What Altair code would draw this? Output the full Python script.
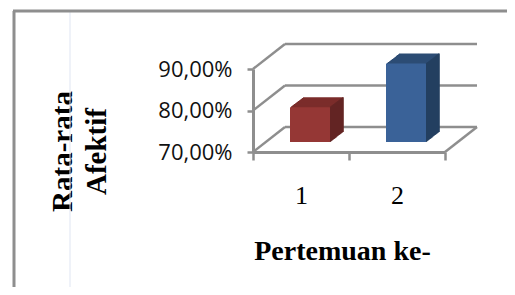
import altair as alt
import pandas as pd

# ---- data ----
pertemuan = ["1", "2"]
nilai = [78.4, 88.9]          # Rata-rata Afektif (%)
grid_values = [70, 80, 90]    # y-axis ticks (%)

bars = pd.DataFrame({"pertemuan": pertemuan, "nilai": nilai})
grid = pd.DataFrame({"nilai": grid_values})

RED_FRONT, RED_TOP, RED_SIDE = "#953735", "#7b2d2b", "#632523"
BLUE_FRONT, BLUE_TOP, BLUE_SIDE = "#3a6298", "#2c4c75", "#243f60"
GRAY = "#8e8e8e"

W, H = 192, 83
DX, DY = 32, -25          # depth of the 3-D walls (px)
BX, BY = 9, -10           # bar front-face offset (px)
EX, EY = 13, -10          # bar extrusion (px)
BW = 40                   # bar width (px)

yscale = alt.Scale(domain=[70, 90], nice=False, zero=False)
yaxis = alt.Axis(
    values=grid_values,
    labelExpr="replace(format(datum.value, '.2f'), '.', ',') + '%'",
    labelFont="Open Sans", labelFontSize=22, labelColor="#111111",
    labelPadding=15, tickSize=6, tickWidth=2.5, tickColor=GRAY,
    domainColor=GRAY, domainWidth=3, grid=False,
    title=["Rata-rata", "Afektif"], titleFont="Liberation Serif",
    titleFontSize=29, titleFontWeight="bold", titleColor="#000000",
    titleAngle=270, titleAlign="center", titleBaseline="middle",
    titleLineHeight=34, titleX=-191, titleY=82,
)
xscale = alt.Scale(paddingInner=0, paddingOuter=0)
xaxis = alt.Axis(
    labelAngle=0, labelFont="Liberation Serif", labelFontSize=26,
    labelColor="#000000", labelPadding=22, tickBand="extent",
    tickSize=8, tickWidth=2.5, tickColor=GRAY, domainColor=GRAY,
    domainWidth=3, grid=False,
    title="Pertemuan ke-", titleFont="Liberation Serif", titleFontSize=28,
    titleFontWeight="bold", titleColor="#000000", titleBaseline="middle",
    titleAlign="center", titleX=89, titleY=99,
)

def X():
    return alt.X("pertemuan:N", scale=xscale, axis=xaxis)

def Y(field="nilai:Q"):
    return alt.Y(field, scale=yscale, axis=yaxis)

def col(c1, c2):
    return alt.when(alt.datum.pertemuan == "1").then(alt.value(c1)).otherwise(alt.value(c2))

layers = []

# page frame and faint page line
frame = alt.Chart(grid.head(1))
layers.append(frame.mark_rule(color="#dfe5f2", strokeWidth=1).encode(
    x=alt.value(-183), y=alt.value(-57), y2=alt.value(250)))
layers.append(frame.mark_rule(color=GRAY, strokeWidth=3).encode(
    x=alt.value(-239), y=alt.value(-58), y2=alt.value(250)))
layers.append(frame.mark_rule(color=GRAY, strokeWidth=3).encode(
    x=alt.value(-240), x2=alt.value(280), y=alt.value(-58)))

# back wall gridlines
g = alt.Chart(grid)
layers.append(g.mark_rule(color=GRAY, strokeWidth=2.5, yOffset=DY, y2Offset=DY).encode(
    x=alt.value(DX), x2=alt.value(W + DX), y=Y(), y2=alt.Y2("nilai:Q")))
# left wall diagonals
layers.append(g.mark_rule(color=GRAY, strokeWidth=2.5, y2Offset=DY).encode(
    x=alt.value(0), x2=alt.value(DX), y=Y(), y2=alt.Y2("nilai:Q")))
# floor right edge
layers.append(g.transform_filter(alt.datum.nilai == 70).mark_rule(
    color=GRAY, strokeWidth=2.5, y2Offset=DY).encode(
    x=alt.value(W), x2=alt.value(W + DX), y=Y(), y2=alt.Y2("nilai:Q")))

b = alt.Chart(bars)
N = EX
# top face: stacked offset copies
for k in range(N, 0, -1):
    oy = BY + EY * k / N
    layers.append(b.mark_bar(width=BW, xOffset=BX + k, yOffset=oy, y2Offset=oy).encode(
        x=X(), y=Y(), y2=alt.Y2(datum=70), color=col(RED_TOP, BLUE_TOP)))
# side face: stacked vertical strips
for k in range(0, N + 1):
    oy = BY + EY * k / N
    layers.append(b.mark_rule(strokeWidth=1.6, xOffset=BX + BW / 2 + k, yOffset=oy, y2Offset=oy).encode(
        x=X(), y=Y(), y2=alt.Y2(datum=70), color=col(RED_SIDE, BLUE_SIDE)))
# front face
layers.append(b.mark_bar(width=BW, xOffset=BX, yOffset=BY, y2Offset=BY).encode(
    x=X(), y=Y(), y2=alt.Y2(datum=70), color=col(RED_FRONT, BLUE_FRONT)))

chart = alt.layer(*layers).properties(
    width=W, height=H,
    autosize=alt.AutoSizeParams(type="none"),
    padding={"left": 245, "top": 61, "right": 62, "bottom": 135},
    background="white",
).configure_view(stroke=None)

chart.save("out.html", embed_options={"renderer": "svg", "actions": False})
